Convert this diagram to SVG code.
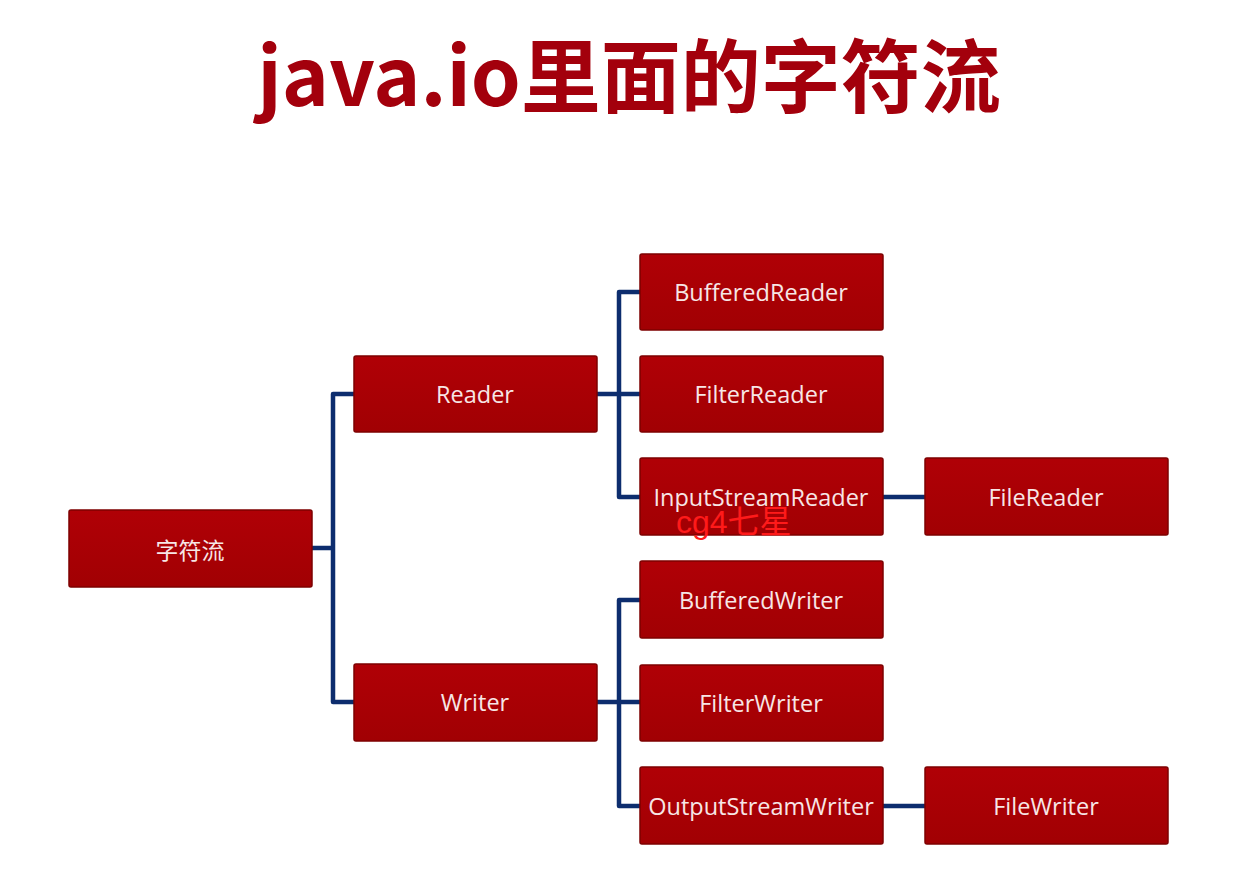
<svg xmlns="http://www.w3.org/2000/svg" width="1236" height="884" viewBox="0 0 1236 884">
<defs>
<linearGradient id="boxg" x1="0" y1="0" x2="0" y2="1">
<stop offset="0" stop-color="#b00006"/>
<stop offset="1" stop-color="#a10003"/>
</linearGradient>
<style>
.box{fill:url(#boxg);stroke:#7d0000;stroke-width:1.5}
.lbl{font-family:"Open Sans","Noto Sans",sans-serif;font-size:23.5px;fill:#f7e6e6;text-anchor:middle;dominant-baseline:central}
.cjk{font-family:"Noto Sans CJK SC",sans-serif;font-size:23px}
.conn{fill:none;stroke:#0d2d6e;stroke-width:4.5;stroke-linejoin:round}
</style>
</defs>
<rect width="1236" height="884" fill="#ffffff"/>
<text x="629" y="106" font-family="'Noto Sans CJK SC',sans-serif" font-weight="bold" font-size="80" fill="#a3000c" text-anchor="middle">java.io里面的字符流</text>
<g id="connectors">
<path class="conn" d="M312 548 H333 M354 394 H333 V702 H354"/>
<path class="conn" d="M597 394 H640 M640 292 H619 V497 H640"/>
<path class="conn" d="M597 702 H640 M640 600 H619 V806 H640"/>
<path class="conn" d="M883 497 H925"/>
<path class="conn" d="M883 806 H925"/>
</g>
<g id="root"><rect class="box" x="69" y="510" width="243" height="77" rx="2"/><text class="lbl cjk" x="190" y="549">字符流</text></g>
<g id="reader"><rect class="box" x="354" y="356" width="243" height="76" rx="2"/><text class="lbl" x="475" y="394">Reader</text></g>
<g id="writer"><rect class="box" x="354" y="664" width="243" height="77" rx="2"/><text class="lbl" x="475" y="702">Writer</text></g>
<g id="bufferedreader"><rect class="box" x="640" y="254" width="243" height="76" rx="2"/><text class="lbl" x="761" y="292">BufferedReader</text></g>
<g id="filterreader"><rect class="box" x="640" y="356" width="243" height="76" rx="2"/><text class="lbl" x="761" y="394">FilterReader</text></g>
<g id="inputstreamreader"><rect class="box" x="640" y="458" width="243" height="77" rx="2"/><text class="lbl" x="761" y="497">InputStreamReader</text></g>
<g id="bufferedwriter"><rect class="box" x="640" y="561" width="243" height="77" rx="2"/><text class="lbl" x="761" y="600">BufferedWriter</text></g>
<g id="filterwriter"><rect class="box" x="640" y="665" width="243" height="76" rx="2"/><text class="lbl" x="761" y="703">FilterWriter</text></g>
<g id="outputstreamwriter"><rect class="box" x="640" y="767" width="243" height="77" rx="2"/><text class="lbl" x="761" y="806">OutputStreamWriter</text></g>
<g id="filereader"><rect class="box" x="925" y="458" width="243" height="77" rx="2"/><text class="lbl" x="1046" y="497">FileReader</text></g>
<g id="filewriter"><rect class="box" x="925" y="767" width="243" height="77" rx="2"/><text class="lbl" x="1046" y="806">FileWriter</text></g>
<text x="676" y="533" font-family="'Liberation Sans','Noto Sans CJK SC',sans-serif" font-size="32" fill="#ff1a1a">cg4七星</text>
</svg>
